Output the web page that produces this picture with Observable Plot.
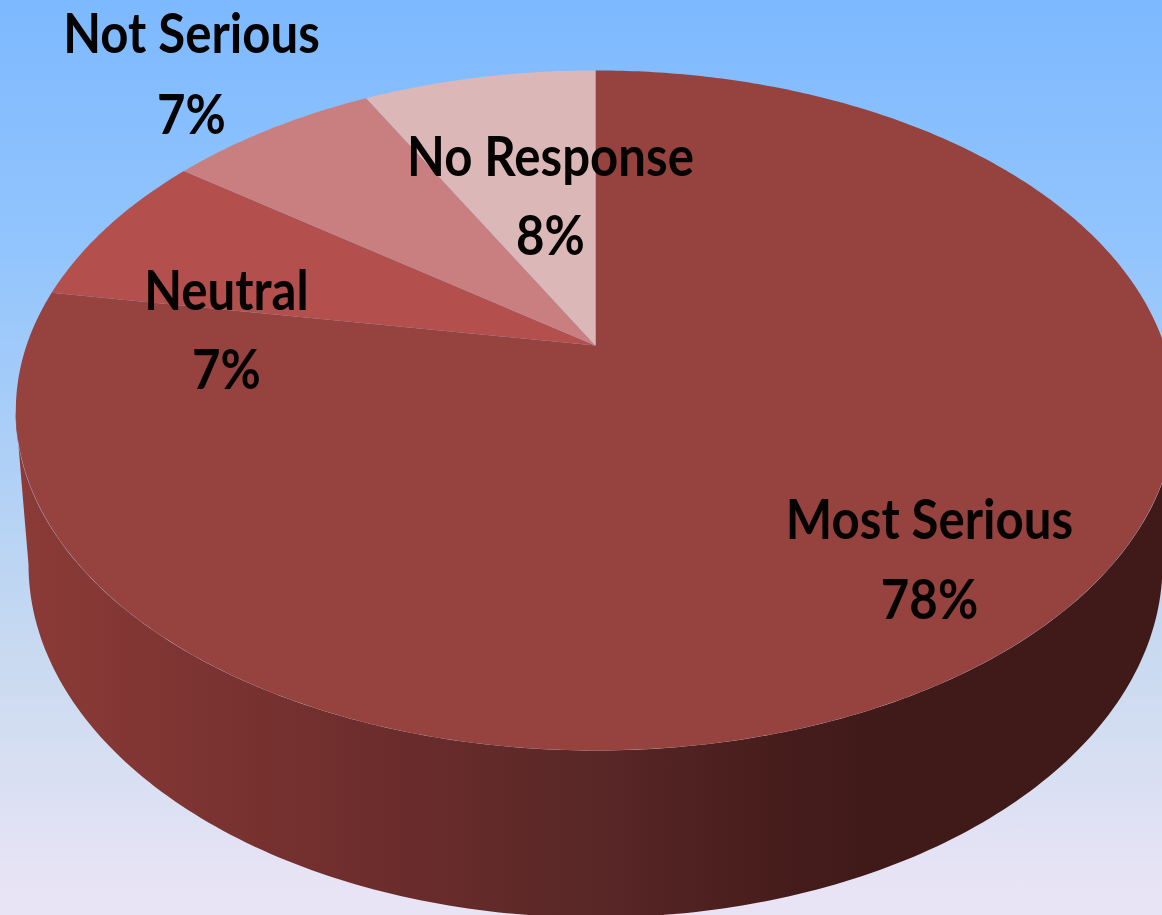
<!DOCTYPE html>
<html>
<head>
<meta charset="utf-8">
<script src="https://cdn.jsdelivr.net/npm/d3@7"></script>
<script src="https://cdn.jsdelivr.net/npm/@observablehq/plot@0.6"></script>
<style>
html,body{margin:0;padding:0;width:1162px;height:915px;overflow:hidden;background:#e8e4f5}
</style>
</head>
<body>
<div id="chart"></div>
<script>
// Data, clockwise from twelve o'clock
const categories = ["Most Serious", "Neutral", "Not Serious", "No Response"];
const shares = [77.65, 7.45, 7.1, 7.8];
const shareLabels = ["78%", "7%", "7%", "8%"];
const sliceColors = ["#964340", "#b34f4c", "#c97f7f", "#dcb7b7"];

// Drawing geometry (screen units of the identity x/y scales)
const apex = {x: 595, y: 345};
const k = 0.191, bx = 569, by = 327.6;      // perspective of the top face
const rim = {cx: 595, cy: 410, rx: 580, ry: 340};
const base = {cx: 595, cy: 564, rx: 567, ry: 353};
const labelAt = [[929, 538, 618], [226, 309, 388], [191, 52, 133], [550, 175, 254]];

const onFace = t => {
  const u = Math.sin(t), v = Math.cos(t), d = 1 + k * v;
  return {x: apex.x + bx * u / d, y: apex.y - by * v / d};
};
const tau = 2 * Math.PI;
const total = d3.sum(shares);
const ends = d3.cumsum(shares);
const slices = categories.map((c, i) => {
  const a0 = (ends[i] - shares[i]) / total * tau, a1 = ends[i] / total * tau;
  const n = Math.max(4, Math.ceil((a1 - a0) * 90));
  const pts = [apex];
  for (let j = 0; j <= n; j++) pts.push(onFace(a0 + (a1 - a0) * j / n));
  return pts;
});

const halfFront = e => d3.range(0, 181).map(d => {
  const t = d / 180 * Math.PI;
  return {x: e.cx - e.rx * Math.cos(t), y: e.cy + e.ry * Math.sin(t)};
});
const wall = [...halfFront(rim), ...halfFront(base).reverse()];

const labelRows = categories.flatMap((c, i) => [
  {text: c, x: labelAt[i][0], y: labelAt[i][1]},
  {text: shareLabels[i], x: labelAt[i][0], y: labelAt[i][2]}
]);

const wallGradient = () => {
  const defs = d3.create("svg:defs");
  const g = defs.append("linearGradient").attr("id", "wall")
    .attr("gradientUnits", "userSpaceOnUse")
    .attr("x1", 15).attr("x2", 1162).attr("y1", 0).attr("y2", 0);
  [[0, "#8c3b37"], [0.29, "#6f2e2d"], [0.5, "#5a2727"], [0.68, "#451c1b"], [0.75, "#3f1a19"], [1, "#3f1a19"]]
    .forEach(([o, c]) => g.append("stop").attr("offset", o).attr("stop-color", c));
  return defs.node();
};

const squeeze = 0.878;
const chart = Plot.plot({
  width: 1162, height: 915,
  marginTop: 0, marginRight: 0, marginBottom: 0, marginLeft: 0,
  x: {domain: [0, 1162], range: [0, 1162], axis: null},
  y: {domain: [0, 915], range: [0, 915], axis: null},
  style: {background: "linear-gradient(#7db9ff 0%,#93c5fd 28%,#c9daf0 72%,#e8e4f5 97%)", display: "block"},
  marks: [
    wallGradient,
    Plot.line(wall, {x: "x", y: "y", fill: "url(#wall)", stroke: "none"}),
    ...slices.map((pts, i) => Plot.line(pts, {x: "x", y: "y", fill: sliceColors[i], stroke: "none"})),
    Plot.text(labelRows, {
      x: "x", y: "y", text: "text", textAnchor: "middle", lineAnchor: "bottom",
      fontFamily: "Lato", fontWeight: 700, fontSize: 56, fill: "#050202",
      render(index, scales, values, dims, ctx, next) {
        const g = next(index, scales, values, dims, ctx);
        g.querySelectorAll("text").forEach(t => {
          t.setAttribute("transform", (t.getAttribute("transform") || "") + ` scale(${squeeze},1)`);
        });
        return g;
      }
    })
  ]
});
document.getElementById("chart").appendChild(chart);
</script>
</body>
</html>
